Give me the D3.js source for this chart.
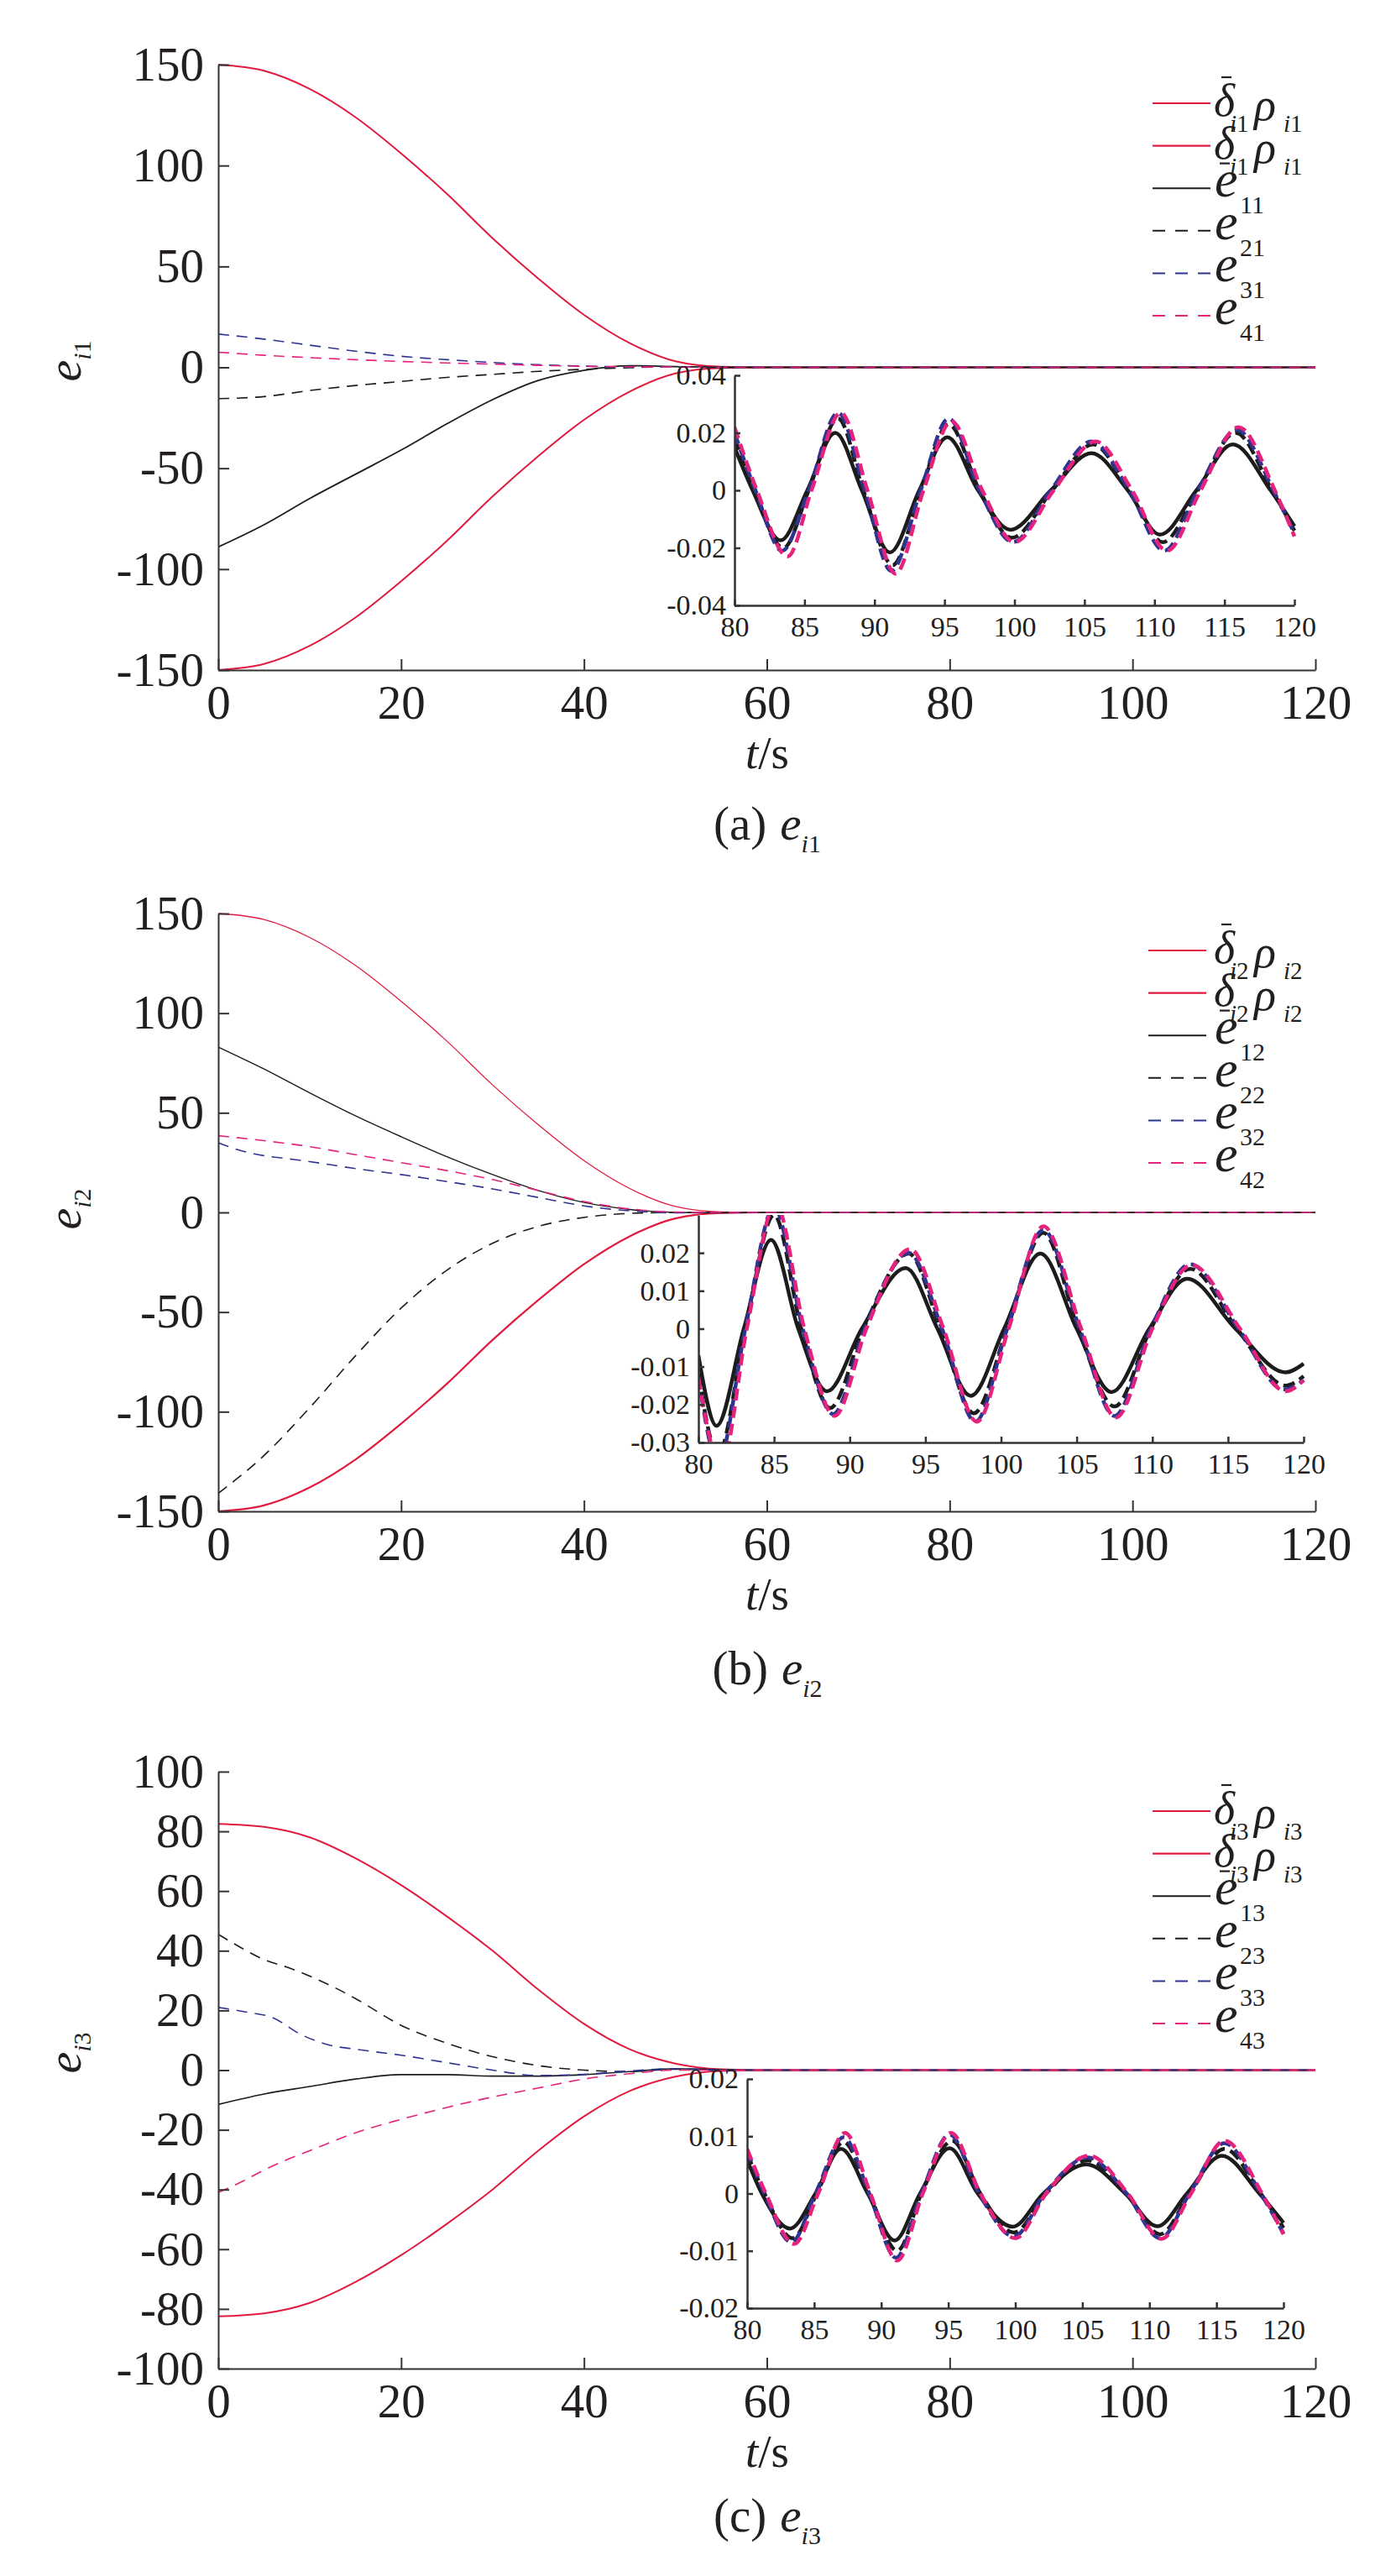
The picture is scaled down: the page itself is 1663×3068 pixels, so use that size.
<!DOCTYPE html>
<html><head><meta charset="utf-8">
<script src="https://cdn.jsdelivr.net/npm/d3@7"></script>
<style>
body{margin:0;background:#fff}
text{font-family:"Liberation Serif","Times New Roman",serif;fill:#231f20}
</style>
</head><body>
<svg id="chart" width="1663" height="3068"></svg>
<script>
// ---------------- DATA ----------------
const timeTicks = [0, 20, 40, 60, 80, 100, 120];
const insetTimeTicks = [80, 85, 90, 95, 100, 105, 110, 115, 120];
const yTicksA = [-150, -100, -50, 0, 50, 100, 150];
const yTicksB = [-150, -100, -50, 0, 50, 100, 150];
const yTicksC = [-100, -80, -60, -40, -20, 0, 20, 40, 60, 80, 100];
const insetYTicksA = [-0.04, -0.02, 0, 0.02, 0.04];
const insetYTicksB = [-0.03, -0.02, -0.01, 0, 0.01, 0.02];
const insetYTicksC = [-0.02, -0.01, 0, 0.01, 0.02];
const captionLetters = ["(a)", "(b)", "(c)"];

// panel (a) e_i1 : [t, value]
const a_upper = [[0,150],[5,147],[10,138],[15,124],[20,106],[25,86],[30,64],[35,44],[40,26],[45,12],[50,3],[55,0.3],[60,0],[120,0]];
const a_lower = [[0,-150],[5,-147],[10,-138],[15,-124],[20,-106],[25,-86],[30,-64],[35,-44],[40,-26],[45,-12],[50,-3],[55,-0.3],[60,0],[120,0]];
const a_e11 = [[0,-89],[5,-78],[10,-65],[15,-53],[20,-41],[25,-28],[30,-16],[35,-6.5],[40,-1.5],[45,0.8],[50,0.4],[55,0],[60,0],[120,0]];
const a_e21 = [[0,-15.5],[5,-14.5],[10,-11.5],[15,-9],[20,-7],[25,-5],[30,-3.5],[35,-2],[40,-1],[45,-0.2],[50,0.3],[55,0],[60,0],[120,0]];
const a_e31 = [[0,16.5],[5,14],[10,11],[15,8],[20,5.5],[25,3.8],[30,2.4],[35,1.3],[40,0.6],[45,0.3],[50,0.3],[55,0],[60,0],[120,0]];
const a_e41 = [[0,7.5],[5,6],[10,4.8],[15,3.8],[20,2.9],[25,2.2],[30,1.6],[35,1],[40,0.5],[45,0.3],[50,0.2],[55,0],[60,0],[120,0]];
// inset (a)
const ia_e11 = [[80,0.015],[81.3,0],[83.3,-0.0174],[85.2,0],[87.2,0.020],[89.1,0],[91.1,-0.0216],[93.2,0],[95.2,0.0185],[97.4,0],[99.7,-0.0137],[102.6,0],[105.5,0.0129],[108.1,0],[110.4,-0.0154],[113,0],[115.6,0.016],[118.3,0],[120,-0.0125]];
const ia_e21 = [[80,0.018],[81.4,0],[83.5,-0.020],[85.3,0],[87.4,0.025],[89.2,0],[91.3,-0.026],[93.3,0],[95.3,0.023],[97.5,0],[99.8,-0.0165],[102.7,0],[105.6,0.016],[108.2,0],[110.6,-0.018],[113.1,0],[115.8,0.020],[118.4,0],[120,-0.014]];
const ia_e31 = [[80,0.020],[81.5,0],[83.4,-0.021],[85.3,0],[87.4,0.027],[89.3,0],[91.2,-0.028],[93.3,0],[95.3,0.025],[97.5,0],[99.9,-0.018],[102.6,0],[105.5,0.017],[108.2,0],[110.7,-0.021],[113.1,0],[115.9,0.021],[118.5,0],[120,-0.015]];
const ia_e41 = [[80,0.022],[81.6,0],[83.8,-0.023],[85.5,0],[87.6,0.027],[89.5,0],[91.5,-0.029],[93.5,0],[95.5,0.024],[97.7,0],[100,-0.018],[102.8,0],[105.8,0.017],[108.4,0],[110.9,-0.021],[113.3,0],[116,0.022],[118.6,0],[120,-0.016]];

// panel (b) e_i2
const b_upper = [[0,150],[5,147],[10,138],[15,124],[20,106],[25,86],[30,64],[35,44],[40,26],[45,12],[50,3],[55,0.3],[60,0],[120,0]];
const b_lower = [[0,-150],[5,-147],[10,-138],[15,-124],[20,-106],[25,-86],[30,-64],[35,-44],[40,-26],[45,-12],[50,-3],[55,-0.3],[60,0],[120,0]];
const b_e12 = [[0,83],[5,72],[10,60],[15,48.5],[20,38],[25,28],[30,19],[35,11],[40,5],[45,1.5],[50,0],[55,-0.2],[60,0],[120,0]];
const b_e22 = [[0,-141],[5,-122],[10,-98],[15,-72],[20,-48],[25,-29],[30,-15.5],[35,-7],[40,-2.5],[45,-0.5],[50,0],[55,0],[60,0],[120,0]];
const b_e32 = [[0,35],[2.5,31],[5,28.5],[7.5,27],[10,25.5],[15,22],[20,19],[25,15.5],[30,11.8],[35,7.5],[40,3.3],[45,0.8],[50,-0.2],[55,0],[60,0],[120,0]];
const b_e42 = [[0,38.5],[5,36],[10,33],[15,29],[20,25],[25,21],[30,16.5],[35,11],[40,5.5],[45,1.8],[50,0.2],[55,0],[60,0],[120,0]];
// inset (b)
const ib_e12 = [[80,-0.007],[81.2,-0.0256],[83.0,0],[84.8,0.0234],[86.6,0],[88.5,-0.0165],[90.8,0],[93.7,0.016],[95.8,0],[98.0,-0.0177],[100.2,0],[102.6,0.0198],[105.0,0],[107.3,-0.0167],[109.8,0],[112.3,0.0132],[115.5,0],[118.8,-0.0115],[120,-0.0092]];
const ib_e22 = [[80,-0.012],[81.3,-0.033],[83.1,0],[85.0,0.030],[86.8,0],[88.7,-0.0209],[90.9,0],[93.9,0.0198],[96.0,0],[98.2,-0.0223],[100.4,0],[102.8,0.0253],[105.1,0],[107.5,-0.0205],[109.9,0],[112.5,0.0158],[115.6,0],[118.8,-0.015],[120,-0.0125]];
const ib_e32 = [[80,-0.0128],[81.3,-0.035],[83.1,0],[85.0,0.032],[86.9,0],[88.9,-0.0225],[91.0,0],[93.9,0.020],[96.1,0],[98.3,-0.0245],[100.4,0],[102.8,0.026],[105.2,0],[107.5,-0.023],[109.9,0],[112.5,0.017],[115.7,0],[118.7,-0.016],[120,-0.0135]];
const ib_e42 = [[80,-0.013],[81.5,-0.036],[83.2,0],[85.1,0.033],[87.0,0],[89.0,-0.023],[91.1,0],[94.0,0.021],[96.2,0],[98.4,-0.0245],[100.5,0],[102.8,0.027],[105.3,0],[107.6,-0.0234],[110.0,0],[112.6,0.0168],[115.8,0],[118.8,-0.0165],[120,-0.0136]];

// panel (c) e_i3
const c_upper = [[0,82.5],[5,81.5],[10,78],[15,71],[20,62],[25,51.5],[30,40],[35,27],[40,15.5],[45,7],[50,2.2],[55,0.3],[60,0],[120,0]];
const c_lower = [[0,-82.5],[5,-81.5],[10,-78],[15,-71],[20,-62],[25,-51.5],[30,-40],[35,-27],[40,-15.5],[45,-7],[50,-2.2],[55,-0.3],[60,0],[120,0]];
const c_e13 = [[0,-11.5],[5,-8],[10,-5.5],[15,-3],[20,-1.5],[25,-1.5],[30,-2],[35,-2],[40,-1.5],[45,-0.5],[50,0.5],[55,0.2],[60,0],[120,0]];
const c_e23 = [[0,45.5],[2.5,41],[5,37],[7.5,34.5],[10,31.5],[12.5,28],[15,24],[20,15],[25,9],[30,4.5],[35,1.5],[40,0],[45,-0.5],[50,0.3],[55,0],[60,0],[120,0]];
const c_e33 = [[0,21],[3,19.5],[6,17.5],[9,12],[12,8.5],[15,7],[20,5],[25,2.5],[30,0],[35,-1.8],[40,-1.4],[45,-0.3],[50,0.5],[55,0],[60,0],[120,0]];
const c_e43 = [[0,-41],[2.5,-37.5],[5,-33.5],[7.5,-30],[10,-27],[15,-21],[20,-16.5],[25,-12.5],[30,-9],[35,-6],[40,-3],[45,-1.2],[50,0],[55,0],[60,0],[120,0]];
// inset (c)
const ic_e13 = [[80,0.0059],[81.1,0],[83.2,-0.0061],[85.1,0],[87.0,0.0078],[89.0,0],[91.0,-0.0082],[92.9,0],[95.1,0.0079],[97.2,0],[99.8,-0.0058],[102.1,0],[105.3,0.0051],[108.2,0],[110.6,-0.0057],[112.8,0],[115.4,0.0066],[118.2,0],[120,-0.0051]];
const ic_e23 = [[80,0.007],[81.3,0],[83.4,-0.0078],[85.2,0],[87.2,0.009],[89.1,0],[91.2,-0.010],[93.0,0],[95.3,0.0092],[97.4,0],[99.9,-0.0068],[102.3,0],[105.4,0.0058],[108.3,0],[110.8,-0.0071],[113,0],[115.6,0.0078],[118.3,0],[120,-0.006]];
const ic_e33 = [[80,0.0075],[81.3,0],[83.3,-0.0085],[85.1,0],[87.2,0.0098],[89.1,0],[91.1,-0.0112],[93.0,0],[95.1,0.0103],[97.3,0],[99.9,-0.0075],[102.2,0],[105.4,0.0063],[108.3,0],[110.8,-0.0078],[113,0],[115.6,0.0088],[118.3,0],[120,-0.007]];
const ic_e43 = [[80,0.0078],[81.4,0],[83.5,-0.0088],[85.3,0],[87.3,0.0106],[89.2,0],[91.2,-0.0117],[93.1,0],[95.2,0.0106],[97.4,0],[100.0,-0.0078],[102.3,0],[105.5,0.0066],[108.4,0],[110.9,-0.0079],[113.1,0],[115.6,0.0092],[118.4,0],[120,-0.0071]];

// ---------------- STYLE / LAYOUT ----------------
const RED = "#e11b40", BLACK = "#1c1c1c", BLUE = "#2e3590", PINK = "#e6237c", AXIS = "#333333";
const FONT = '"Liberation Serif","Times New Roman",serif';

const panels = [
  { k: 1, main: {x0:260, x1:1567, y0:77,   y1:798,  ydom:[-150,150]}, yticks: yTicksA,
    inset: {x0:875, x1:1542, y0:447,  y1:721,  ydom:[-0.04,0.04]}, iyticks: insetYTicksA,
    legY: 123, legX1: 1373, legX2: 1442, ylabY: 430, capOff: 202,
    series: [a_upper, a_lower, a_e11, a_e21, a_e31, a_e41], insetSeries: [ia_e11, ia_e21, ia_e31, ia_e41],
    widths: [2, 2, 1.8, 1.6, 1.6, 1.6] },
  { k: 2, main: {x0:260, x1:1567, y0:1088, y1:1800, ydom:[-150,150]}, yticks: yTicksB,
    inset: {x0:832, x1:1553, y0:1447, y1:1718, ydom:[-0.03,0.03]}, iyticks: insetYTicksB,
    legY: 1132, legX1: 1368, legX2: 1437, ylabY: 1440, capOff: 206,
    series: [b_upper, b_lower, b_e12, b_e22, b_e32, b_e42], insetSeries: [ib_e12, ib_e22, ib_e32, ib_e42],
    widths: [1.3, 2.2, 1.4, 1.6, 1.6, 1.6] },
  { k: 3, main: {x0:260, x1:1567, y0:2110, y1:2821, ydom:[-100,100]}, yticks: yTicksC,
    inset: {x0:890, x1:1529, y0:2476, y1:2749, ydom:[-0.02,0.02]}, iyticks: insetYTicksC,
    legY: 2157, legX1: 1373, legX2: 1442, ylabY: 2445, capOff: 194,
    series: [c_upper, c_lower, c_e13, c_e23, c_e33, c_e43], insetSeries: [ic_e13, ic_e23, ic_e33, ic_e43],
    widths: [2, 2, 1.6, 1.6, 1.6, 1.6] }
];
const seriesColors = [RED, RED, BLACK, BLACK, BLUE, PINK];
const seriesDashed = [false, false, false, true, true, true];

const svg = d3.select("#chart");
const fmt = d => String(d);

function styleAxis(sel, fs, sw) {
  sel.attr("font-family", FONT).attr("font-size", fs).attr("color", AXIS);
  sel.select(".domain").attr("stroke", AXIS).attr("stroke-width", sw);
  sel.selectAll(".tick line").attr("stroke", AXIS).attr("stroke-width", sw);
  sel.selectAll(".tick text").attr("fill", "#231f20");
}

panels.forEach((P, pi) => {
  const M = P.main;
  const g = svg.append("g");
  const x = d3.scaleLinear().domain([0, 120]).range([M.x0, M.x1]);
  const y = d3.scaleLinear().domain(M.ydom).range([M.y1, M.y0]);

  // main series
  const line = d3.line().x(d => x(d[0])).y(d => y(d[1])).curve(d3.curveMonotoneX);
  P.series.forEach((s, i) => {
    g.append("path").attr("d", line(s)).attr("fill", "none")
      .attr("stroke", seriesColors[i]).attr("stroke-width", P.widths[i])
      .attr("stroke-dasharray", seriesDashed[i] ? "13,9" : null);
  });

  // main axes
  g.append("g").attr("transform", `translate(0,${M.y1})`)
    .call(d3.axisBottom(x).tickValues(timeTicks).tickFormat(fmt).tickSize(-13).tickSizeOuter(0).tickPadding(18))
    .call(s => styleAxis(s, 57, 2));
  g.append("g").attr("transform", `translate(${M.x0},0)`)
    .call(d3.axisLeft(y).tickValues(P.yticks).tickFormat(fmt).tickSize(-13).tickSizeOuter(0).tickPadding(17))
    .call(s => styleAxis(s, 57, 2));

  // y label
  const yl = g.append("text").attr("transform", `translate(96,${P.ylabY}) rotate(-90)`)
    .attr("text-anchor", "middle").attr("font-size", 58);
  yl.append("tspan").attr("font-style", "italic").text("e");
  yl.append("tspan").attr("font-size", 30).attr("dy", 12).attr("font-style", "italic").text("i");
  yl.append("tspan").attr("font-size", 30).text(P.k);

  // x label
  const xl = g.append("text").attr("x", 914).attr("y", M.y1 + 117).attr("text-anchor", "middle").attr("font-size", 55);
  xl.append("tspan").attr("font-style", "italic").text("t");
  xl.append("tspan").text("/s");

  // caption
  const cap = g.append("text").attr("x", 914).attr("y", M.y1 + P.capOff).attr("text-anchor", "middle").attr("font-size", 57);
  cap.append("tspan").text(captionLetters[pi]);
  cap.append("tspan").attr("dx", 16).attr("font-style", "italic").text("e");
  cap.append("tspan").attr("font-size", 30).attr("dy", 15).attr("font-style", "italic").text("i");
  cap.append("tspan").attr("font-size", 30).text(P.k);

  // legend
  for (let i = 0; i < 6; i++) {
    const Y = P.legY + i * 50.6;
    g.append("line").attr("x1", P.legX1).attr("x2", P.legX2).attr("y1", Y).attr("y2", Y)
      .attr("stroke", seriesColors[i]).attr("stroke-width", i < 2 ? 2.2 : 2)
      .attr("stroke-dasharray", seriesDashed[i] ? "15,12" : null);
    if (i < 2) {
      g.append("text").attr("x", 1446).attr("y", Y + 15).attr("font-size", 54).attr("font-style", "italic").text("δ");
      if (i === 0) g.append("line").attr("x1", 1455).attr("x2", 1467).attr("y1", Y - 31).attr("y2", Y - 31).attr("stroke", "#231f20").attr("stroke-width", 2.2);
      else g.append("line").attr("x1", 1453).attr("x2", 1465).attr("y1", Y + 21).attr("y2", Y + 21).attr("stroke", "#231f20").attr("stroke-width", 2.2);
      const s1 = g.append("text").attr("x", 1465).attr("y", Y + 34).attr("font-size", 29);
      s1.append("tspan").attr("font-style", "italic").text("i"); s1.append("tspan").text(P.k);
      g.append("text").attr("x", 1494).attr("y", Y + 20).attr("font-size", 54).attr("font-style", "italic").text("ρ");
      const s2 = g.append("text").attr("x", 1529).attr("y", Y + 34).attr("font-size", 29);
      s2.append("tspan").attr("font-style", "italic").text("i"); s2.append("tspan").text(P.k);
    } else {
      g.append("text").attr("x", 1447).attr("y", Y + 10).attr("font-size", 62).attr("font-style", "italic").text("e");
      g.append("text").attr("x", 1477).attr("y", Y + 30).attr("font-size", 30).text(`${i - 1}${P.k}`);
    }
  }

  // inset
  const I = P.inset;
  const ix = d3.scaleLinear().domain([80, 120]).range([I.x0, I.x1]);
  const iy = d3.scaleLinear().domain(I.ydom).range([I.y1, I.y0]);
  const ig = svg.append("g");
  ig.append("rect").attr("x", I.x0).attr("y", I.y0).attr("width", I.x1 - I.x0 + 4).attr("height", I.y1 - I.y0).attr("fill", "#fff");
  const cid = "clip" + pi;
  ig.append("clipPath").attr("id", cid).append("rect").attr("x", I.x0).attr("y", I.y0).attr("width", I.x1 - I.x0 + 3).attr("height", I.y1 - I.y0);
  const iline = d3.line().x(d => ix(d[0])).y(d => iy(d[1])).curve(d3.curveMonotoneX);
  const ic = [BLACK, BLACK, BLUE, PINK], idash = [false, true, true, true];
  P.insetSeries.forEach((s, i) => {
    ig.append("path").attr("clip-path", `url(#${cid})`).attr("d", iline(s)).attr("fill", "none")
      .attr("stroke", ic[i]).attr("stroke-width", 4.5).attr("stroke-dasharray", idash[i] ? "14,7" : null);
  });
  ig.append("g").attr("transform", `translate(0,${I.y1})`)
    .call(d3.axisBottom(ix).tickValues(insetTimeTicks).tickFormat(fmt).tickSize(-7).tickSizeOuter(0).tickPadding(13))
    .call(s => styleAxis(s, 34, 2.5));
  ig.append("g").attr("transform", `translate(${I.x0},0)`)
    .call(d3.axisLeft(iy).tickValues(P.iyticks).tickFormat(fmt).tickSize(-7).tickSizeOuter(0).tickPadding(10))
    .call(s => styleAxis(s, 34, 2.5));
});
</script>
</body></html>
